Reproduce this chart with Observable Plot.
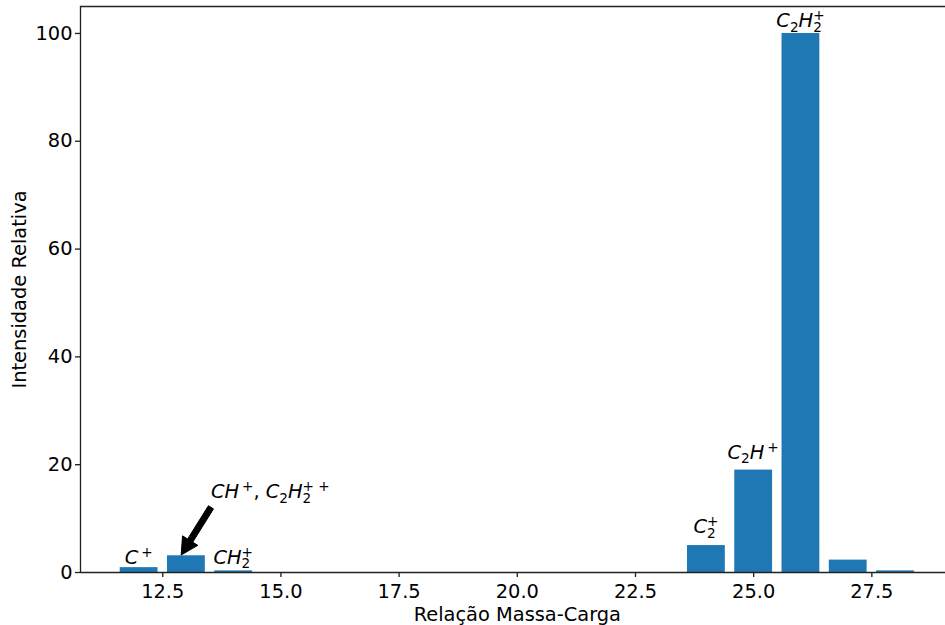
<!DOCTYPE html>
<html><head><meta charset="utf-8">
<script src="https://cdn.jsdelivr.net/npm/d3@7"></script>
<script src="https://cdn.jsdelivr.net/npm/@observablehq/plot@0.6"></script>
<style>
body{margin:0;background:#fff;overflow:hidden}
#chart svg{display:block;background:#fff}
</style>
</head><body><div id="chart"></div>
<script>
// ---- data ----
const massCharge = [12, 13, 14, 24, 25, 26, 27, 28];
const intensity  = [0.9, 3.1, 0.3, 5.0, 19.0, 100, 2.3, 0.3];
const xTicks = [12.5, 15, 17.5, 20, 22.5, 25, 27.5];
const yTicks = [0, 20, 40, 60, 80, 100];
const xLabel = "Relação Massa-Carga";
const yLabel = "Intensidade Relativa";
// ion labels (anchor m/z, baseline in intensity units, mathtext)
const ionMz     = [12, 14, 24, 25, 26];
const ionLabelY = [1.5, 1.5, 7.2, 21.0, 101.1];
const ionTex    = ["C^+", "CH_2^+", "C_2^+", "C_2H^+", "C_2H_2^+"];
// annotation
const noteTex   = "CH^+, C_2H_2^{+ +}";
const noteAt    = [13.53, 13.7];
const arrowTail = [13.53, 12.0];
const arrowTip  = [12.9, 3.15];

const xDomain = [10.76, 29.24];
const yDomain = [0, 105];
const barWidth = 0.8;

const bars = massCharge.map((m, i) => ({m, v: intensity[i]}));

const TFS = 19.4;          // tick labels
const LFS = 19.4;          // axis labels & math labels
const SFS = 13.6;          // sub/superscripts
const INK = "#222";

function parseTex(tex) {
  const segs = []; let i = 0; let base = "";
  const flush = () => { if (base) { segs.push({kind: "base", text: base}); base = ""; } };
  while (i < tex.length) {
    const c = tex[i];
    if (c === "_" || c === "^") {
      flush();
      let t;
      if (tex[i + 1] === "{") { const j = tex.indexOf("}", i + 2); t = tex.slice(i + 2, j); i = j + 1; }
      else { t = tex[i + 1]; i += 2; }
      segs.push({kind: c === "_" ? "sub" : "sup", text: t});
    } else { base += c; i++; }
  }
  flush();
  return segs;
}

function richText(g, tex, x, y, anchor) {
  const text = g.append("text")
    .attr("x", x).attr("y", y)
    .attr("text-anchor", anchor)
    .attr("font-family", "DejaVu Sans")
    .attr("font-size", LFS)
    .attr("fill", "#000")
    .style("white-space", "pre");
  const segs = parseTex(tex);
  let shift = 0;
  segs.forEach((s, k) => {
    const prev = segs[k - 1];
    const size = s.kind === "base" ? LFS : SFS;
    const target = s.kind === "sub" ? 4.5 : s.kind === "sup" ? -6.8 : 0;
    let dx = 0;
    if (s.kind === "sup" && prev && prev.kind === "sub") dx = -prev.text.length * 0.636 * SFS;
    else if (s.kind === "sup" && prev && prev.kind === "base") dx = 3;
    const runs = s.text.match(/[A-Za-z]+|[^A-Za-z]+/g) || [];
    runs.forEach((r, q) => {
      const ts = text.append("tspan")
        .attr("font-size", size)
        .attr("font-style", /[A-Za-z]/.test(r) ? "italic" : "normal")
        .text(r);
      if (q === 0) {
        if (target - shift !== 0) ts.attr("dy", target - shift);
        if (dx) ts.attr("dx", dx);
        shift = target;
      }
    });
  });
}

const labelsMark = (index, scales) => {
  const {x, y} = scales;
  const g = d3.create("svg:g");
  ionMz.forEach((m, i) => richText(g, ionTex[i], x(m), y(ionLabelY[i]), "middle"));
  richText(g, noteTex, x(noteAt[0]), y(noteAt[1]), "start");
  // arrow
  const S = [x(arrowTail[0]), y(arrowTail[1])], T = [x(arrowTip[0]), y(arrowTip[1])];
  const L = Math.hypot(T[0] - S[0], T[1] - S[1]);
  const u = [(T[0] - S[0]) / L, (T[1] - S[1]) / L], n = [-u[1], u[0]];
  const w = 6, hw = 18, hl = 17;
  const B = [T[0] - u[0] * hl, T[1] - u[1] * hl];
  const p = (P, k) => [P[0] + n[0] * k, P[1] + n[1] * k];
  const pts = [p(S, w / 2), p(B, w / 2), p(B, hw / 2), T, p(B, -hw / 2), p(B, -w / 2), p(S, -w / 2)];
  g.append("polygon").attr("points", pts.map(d => d.join(",")).join(" "))
    .attr("fill", "#000").attr("stroke", "#000").attr("stroke-width", 1).attr("stroke-linejoin", "miter");
  return g.node();
};

const chart = Plot.plot({
  width: 945,
  height: 625,
  marginLeft: 80,
  marginTop: 6,
  marginBottom: 53,
  marginRight: 945 - 953.6,
  style: {fontFamily: "DejaVu Sans", fontSize: TFS + "px", color: "#000", background: "#fff"},
  x: {domain: xDomain},
  y: {domain: yDomain},
  marks: [
    Plot.rectY(bars, {x1: d => d.m - barWidth / 2, x2: d => d.m + barWidth / 2, y: "v", fill: "#1f77b4", inset: 0}),
    Plot.ruleY([yDomain[0], yDomain[1]], {stroke: INK, strokeWidth: 1.33}),
    Plot.ruleX([xDomain[0]], {stroke: INK, strokeWidth: 1.33}),
    Plot.axisX(xTicks, {anchor: "bottom", tickSize: 5, tickPadding: 6.5, tickFormat: d => d.toFixed(1), label: null, stroke: INK, strokeWidth: 1.33, fontSize: TFS, fill: "#000"}),
    Plot.axisY(yTicks, {anchor: "left", tickSize: 5, tickPadding: 3, tickFormat: d => String(d), label: null, stroke: INK, strokeWidth: 1.33, fontSize: TFS, fill: "#000"}),
    Plot.text([xLabel], {frameAnchor: "bottom", dy: 42, lineAnchor: "middle", textAnchor: "middle", fontSize: LFS, fill: "#000"}),
    Plot.text([yLabel], {frameAnchor: "left", dx: -60.5, rotate: -90, lineAnchor: "middle", textAnchor: "middle", fontSize: LFS, fill: "#000"}),
    labelsMark
  ]
});
document.getElementById("chart").appendChild(chart);
</script>
</body></html>
